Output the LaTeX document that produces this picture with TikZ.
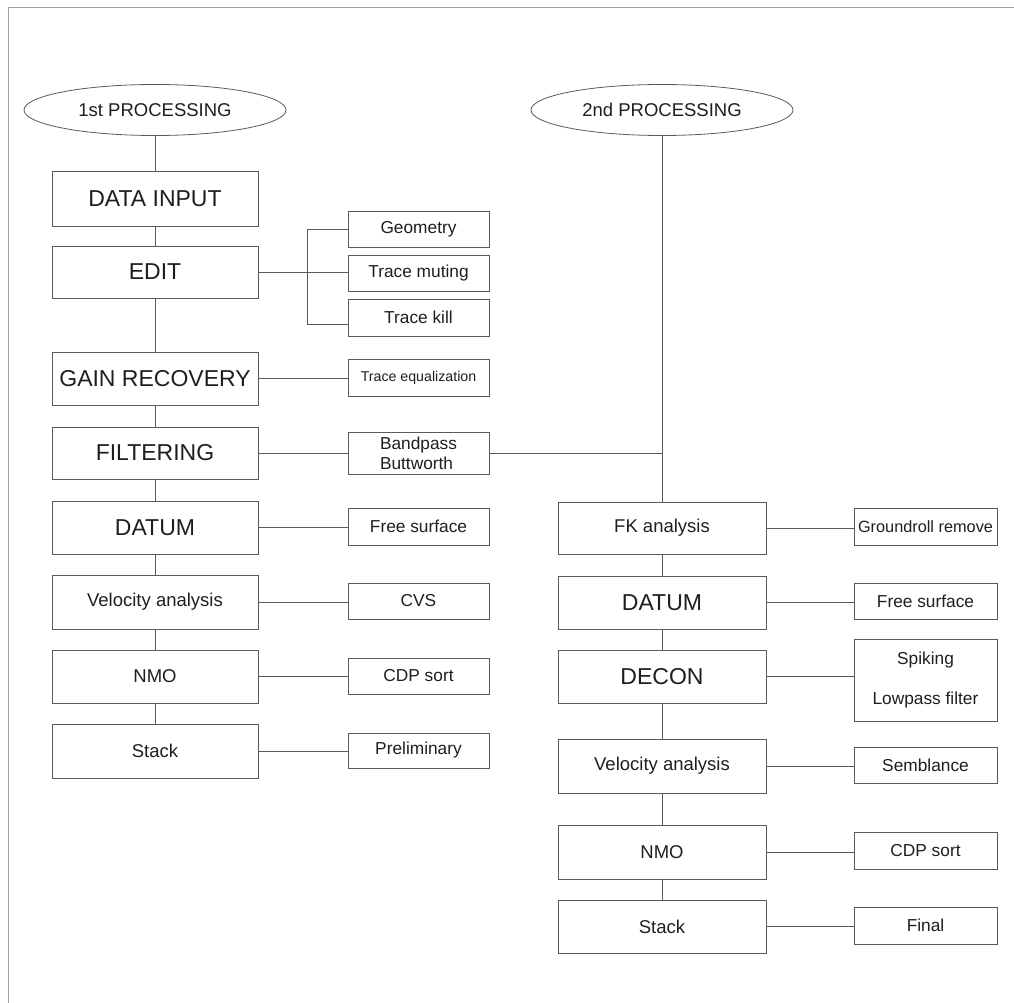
\documentclass[tikz,border=0pt]{standalone}
\usepackage{fontspec}
\setmainfont{Liberation Sans}
\usetikzlibrary{shapes.geometric}
\definecolor{ln}{HTML}{5A5A5A}
\definecolor{tx}{HTML}{1E1E1E}
\definecolor{frame}{HTML}{A0A0A0}
\tikzset{
 box/.style={draw=ln, line width=1pt, inner sep=0pt, text=tx, rectangle},
 lbox/.style={box, minimum width=206pt},
 rbox/.style={box, minimum width=208pt},
 side/.style={box, minimum width=141pt, font=\fontsize{17.3}{20}\selectfont},
 big/.style={font=\fontsize{23}{27}\selectfont},
 mid/.style={font=\fontsize{18.5}{22}\selectfont},
 oval/.style={ellipse, draw=ln, line width=0.8pt, minimum width=262pt, minimum height=51pt, inner sep=0pt, text=tx, font=\fontsize{18.5}{22}\selectfont},
 conn/.style={draw=ln, line width=1pt},
}
\begin{document}
\begin{tikzpicture}[x=1pt,y=-1pt]
\useasboundingbox (0,0) rectangle (1014,1003);
% frame
\draw[frame, line width=1pt] (8,1003) -- (8,8) -- (1014,8);

% ellipses
\node[oval] (e1) at (155,110) {1st PROCESSING};
\node[oval] (e2) at (662,110) {2nd PROCESSING};

% left column
\node[lbox, big, minimum height=54pt] (datain) at (155,199) {DATA INPUT};
\node[lbox, big, minimum height=52pt] (edit) at (155,272) {EDIT};
\node[lbox, big, minimum height=53pt] (gain) at (155,378.5) {GAIN RECOVERY};
\node[lbox, big, minimum height=52pt] (filt) at (155,453) {FILTERING};
\node[lbox, big, minimum height=53pt] (datum) at (155,527.5) {DATUM};
\node[lbox, mid, minimum height=54pt] (vel) at (155,602) {Velocity analysis};
\node[lbox, mid, minimum height=53pt] (nmo) at (155,676.5) {NMO};
\node[lbox, mid, minimum height=54pt] (stack) at (155,751) {Stack};

% left side boxes
\node[side, minimum height=36pt] (geo) at (418.5,229) {Geometry};
\node[side, minimum height=36pt] (tm) at (418.5,273) {Trace muting};
\node[side, minimum height=37pt] (tk) at (418.5,317.5) {Trace kill};
\node[side, minimum height=37pt, font=\fontsize{14.2}{17}\selectfont] (teq) at (418.5,377.5) {Trace equalization};
\node[side, minimum height=42pt, align=left] (band) at (418.5,453) {Bandpass\\Buttworth};
\node[side, minimum height=37pt] (fs) at (418.5,526.5) {Free surface};
\node[side, minimum height=36pt] (cvs) at (418.5,601) {CVS};
\node[side, minimum height=36pt] (cdp) at (418.5,676) {CDP sort};
\node[side, minimum height=35pt] (prel) at (418.5,750.5) {Preliminary};

% right column
\node[rbox, mid, minimum height=52pt] (fk) at (662,528) {FK analysis};
\node[rbox, big, minimum height=53pt] (datum2) at (662,602.5) {DATUM};
\node[rbox, big, minimum height=53pt] (decon) at (662,676.5) {DECON};
\node[rbox, mid, minimum height=54pt] (vel2) at (662,766) {Velocity analysis};
\node[rbox, mid, minimum height=54pt] (nmo2) at (662,852) {NMO};
\node[rbox, mid, minimum height=53pt] (stack2) at (662,926.5) {Stack};

% right side boxes
\node[side, minimum width=143pt, minimum height=37pt, font=\fontsize{16.3}{19}\selectfont] (gr) at (925.5,526.5) {Groundroll remove};
\node[side, minimum width=143pt, minimum height=36pt] (fs2) at (925.5,601) {Free surface};
\node[side, minimum width=143pt, minimum height=82pt, align=center, font=\fontsize{17.3}{40}\selectfont] (spk) at (925.5,680) {Spiking\\Lowpass filter};
\node[side, minimum width=143pt, minimum height=36pt] (sem) at (925.5,765) {Semblance};
\node[side, minimum width=143pt, minimum height=37pt] (cdp2) at (925.5,850.5) {CDP sort};
\node[side, minimum width=143pt, minimum height=37pt] (fin) at (925.5,925.5) {Final};

% vertical connectors left
\draw[conn] (e1.south) -- (datain.north);
\draw[conn] (datain.south) -- (edit.north);
\draw[conn] (edit.south) -- (gain.north);
\draw[conn] (gain.south) -- (filt.north);
\draw[conn] (filt.south) -- (datum.north);
\draw[conn] (datum.south) -- (vel.north);
\draw[conn] (vel.south) -- (nmo.north);
\draw[conn] (nmo.south) -- (stack.north);

% vertical connectors right
\draw[conn] (e2.south) -- (fk.north);
\draw[conn] (fk.south) -- (datum2.north);
\draw[conn] (datum2.south) -- (decon.north);
\draw[conn] (decon.south) -- (vel2.north);
\draw[conn] (vel2.south) -- (nmo2.north);
\draw[conn] (nmo2.south) -- (stack2.north);

% edit bracket
\coordinate (bt) at (307,229);
\coordinate (bb) at (307,324);
\draw[conn] (edit.east) -- (edit.east -| tm.west);
\draw[conn] (geo.west) -- (bt) -- (bb) -- (bb -| tk.west);

% horizontal connectors left
\draw[conn] (gain.east) -- (gain.east -| teq.west);
\draw[conn] (filt.east) -- (filt.east -| band.west);
\draw[conn] (band.east) -- (band.east -| e2.south);
\draw[conn] (datum.east) -- (datum.east -| fs.west);
\draw[conn] (vel.east) -- (vel.east -| cvs.west);
\draw[conn] (nmo.east) -- (nmo.east -| cdp.west);
\draw[conn] (stack.east) -- (stack.east -| prel.west);

% horizontal connectors right
\draw[conn] (fk.east) -- (fk.east -| gr.west);
\draw[conn] (datum2.east) -- (datum2.east -| fs2.west);
\draw[conn] (decon.east) -- (decon.east -| spk.west);
\draw[conn] (vel2.east) -- (vel2.east -| sem.west);
\draw[conn] (nmo2.east) -- (nmo2.east -| cdp2.west);
\draw[conn] (stack2.east) -- (stack2.east -| fin.west);
\end{tikzpicture}
\end{document}
